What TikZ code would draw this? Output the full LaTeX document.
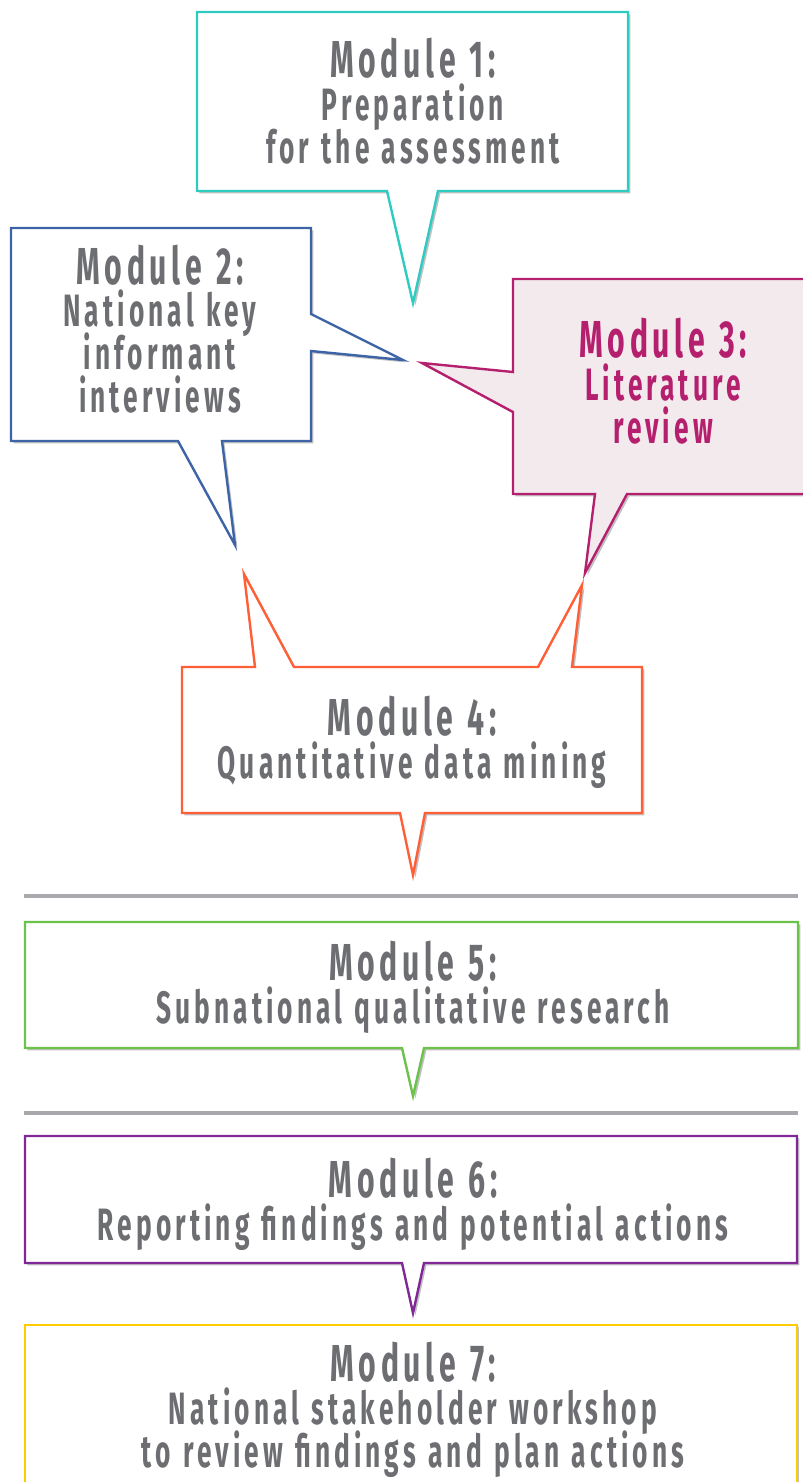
\documentclass[tikz,border=0pt]{standalone}
\usepackage{fontspec}
\setmainfont{Fira Sans}[FakeStretch=0.58,LetterSpace=9,WordSpace=1.2,UprightFont=* Bold]
\usetikzlibrary{shadows}
\definecolor{mteal}{RGB}{46,204,192}
\definecolor{mblue}{RGB}{62,100,168}
\definecolor{mmagenta}{RGB}{181,32,110}
\definecolor{mpink}{RGB}{243,234,238}
\definecolor{morange}{RGB}{255,95,55}
\definecolor{mgreen}{RGB}{109,194,75}
\definecolor{mpurple}{RGB}{128,40,150}
\definecolor{myellow}{RGB}{255,204,0}
\definecolor{mtext}{RGB}{109,110,113}
\definecolor{msep}{RGB}{167,169,172}
\newcommand\mtitle[1]{{\fontsize{39}{32}\selectfont #1}}
\newcommand\modfont{\fontsize{34}{32}\selectfont\lineskiplimit -20pt\relax}
\begin{document}
\begin{tikzpicture}[x=0.75pt,y=-0.75pt,
  callout/.style={line width=1.8pt,fill=white,line join=miter,
    drop shadow={shadow xshift=1.8pt,shadow yshift=-1.8pt,opacity=.35,fill=black!70}},
  modtext/.style={anchor=base,align=center,text=mtext,font=\modfont},
  sepline/.style={msep,line width=3pt}]
\useasboundingbox (0,0) rectangle (803,1482);
% callouts
\draw[callout,draw=mteal]
  (197,12)--(628,12)--(628,191)--(438,191)--(413,303)--(387,191)--(197,191)--cycle;
\draw[callout,draw=mblue]
  (11,228)--(311,228)--(311,314)--(403,360)--(311,351)--(311,441)
  --(222,441)--(235,545)--(178,441)--(11,441)--cycle;
\draw[callout,draw=mmagenta,fill=mpink]
  (513,279)--(812,279)--(812,494)--(627,494)--(585,573)--(595,494)
  --(513,494)--(513,412)--(422,363)--(513,372)--cycle;
\draw[callout,draw=morange]
  (182,667)--(255,667)--(244,574)--(294,667)--(538,667)--(582,585)--(572,667)
  --(642,667)--(642,813)--(425,813)--(413,875)--(400,813)--(182,813)--cycle;
\draw[callout,draw=mgreen]
  (25,922)--(798,922)--(798,1048)--(424,1048)--(413,1096)--(402,1048)--(25,1048)--cycle;
\draw[callout,draw=mpurple]
  (25,1136)--(797,1136)--(797,1263)--(424,1263)--(413,1313)--(402,1263)--(25,1263)--cycle;
\draw[callout,draw=myellow]
  (25,1325)--(797,1325)--(797,1500)--(25,1500)--cycle;
% separators
\draw[sepline] (24,896)--(798,896) (24,1113)--(798,1113);
% texts (base = last line)
\node[modtext] (m1) at (413,163) {\mtitle{Module 1:}\\Preparation\\for the assessment};
\node[modtext] (m2) at (160,412) {\mtitle{Module 2:}\\National key\\informant\\interviews};
\node[modtext,text=mmagenta] (m3) at (663,443) {\mtitle{Module 3:}\\Literature\\review};
\node[modtext] (m4) at (412,778) {\mtitle{Module 4:}\\Quantitative data mining};
\node[modtext] (m5) at (413,1023) {\mtitle{Module 5:}\\Subnational qualitative research};
\node[modtext] (m6) at (413,1240) {\mtitle{Module 6:}\\Reporting findings and potential actions};
\node[modtext] (m7) at (413,1467) {\mtitle{Module 7:}\\National stakeholder workshop\\to review findings and plan actions};
\end{tikzpicture}
\end{document}
